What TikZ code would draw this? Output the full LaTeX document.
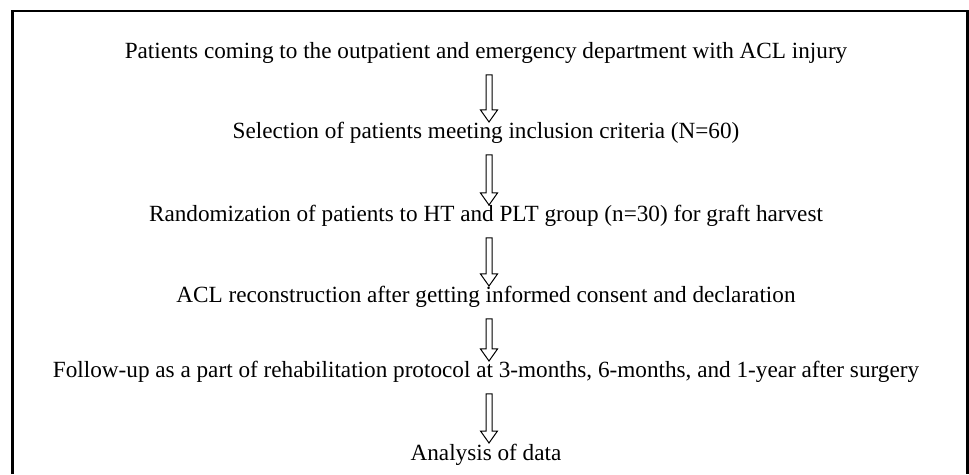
\documentclass[tikz,border=0pt]{standalone}
\usepackage{fontspec}
\setmainfont{Liberation Serif}
\usetikzlibrary{calc}
\tikzset{
  stepline/.style={anchor=base, inner sep=0pt, font=\fontsize{23.2}{27}\selectfont},
  hollowarrow/.style={draw=black, line width=1pt, fill=white, line join=miter},
  frameline/.style={draw=black, line width=2.8pt}
}
\newcommand\flowarrow[2]{%
  \draw[hollowarrow] let \p1=(#1.base), \p2=(#2.base) in
    (486pt,\y1-16pt) -- (492pt,\y1-16pt) -- (492pt,\y2+29pt) -- (497.5pt,\y2+29pt)
    -- (489pt,\y2+17pt) -- (480.5pt,\y2+29pt) -- (486pt,\y2+29pt) -- cycle;}
\begin{document}
\begin{tikzpicture}[x=1pt,y=1pt]
\useasboundingbox (0,0) rectangle (969,474);
\draw[frameline] (12.5,0) -- (12.5,463) -- (967.8,463) -- (967.8,0);
\node[stepline] (t1) at (486,415) {Patients coming to the outpatient and emergency department with ACL injury};
\node[stepline] (t2) at (486,335) {Selection of patients meeting inclusion criteria (N=60)};
\node[stepline] (t3) at (486,252) {Randomization of patients to HT and PLT group (n=30) for graft harvest};
\node[stepline] (t4) at (486,171) {ACL reconstruction after getting informed consent and declaration};
\node[stepline] (t5) at (486,96) {Follow-up as a part of rehabilitation protocol at 3-months, 6-months, and 1-year after surgery};
\node[stepline] (t6) at (486,14) {Analysis of data};
\flowarrow{t1}{t2}
\flowarrow{t2}{t3}
\flowarrow{t3}{t4}
\flowarrow{t4}{t5}
\flowarrow{t5}{t6}
\end{tikzpicture}
\end{document}
